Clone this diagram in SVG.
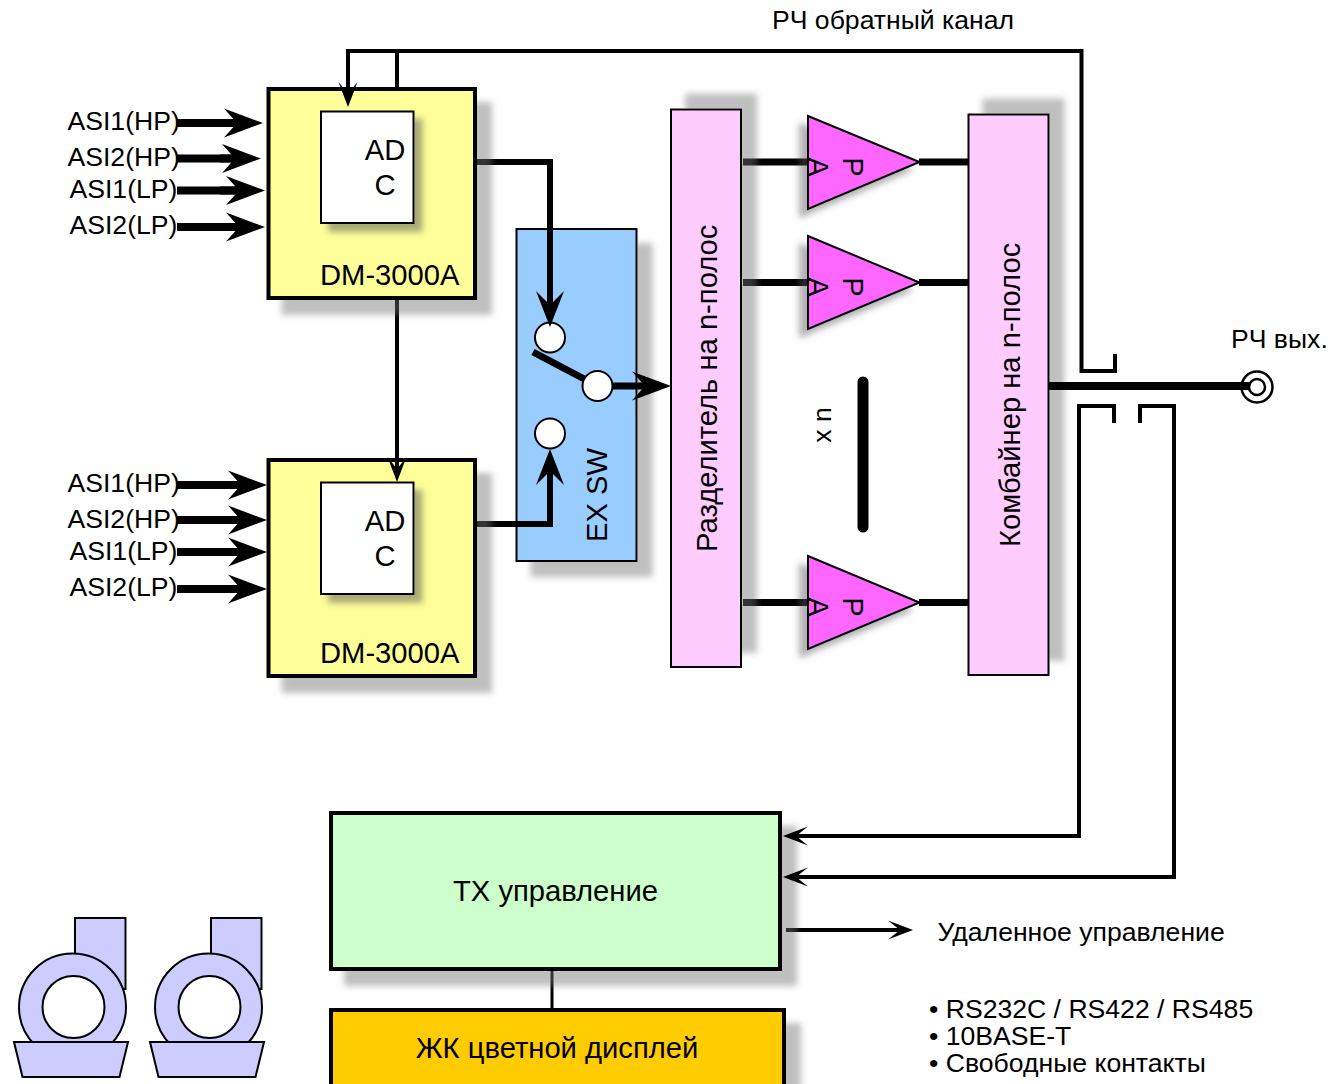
<svg xmlns="http://www.w3.org/2000/svg" width="1341" height="1084" viewBox="0 0 1341 1084">
<style>
text{font-family:"Liberation Sans",Arial,sans-serif;fill:#000}
.t26{font-size:26.600px}.t29{font-size:29.200px}.t28{font-size:29.200px}
.m{text-anchor:middle}
.box{stroke:#000;stroke-width:4}
.thin{stroke:#000;stroke-width:2}
.y{fill:#ffff99}.w{fill:#fff}.b{fill:#99ccff}.p{fill:#ffccff}.a{fill:#ff66ff}.g{fill:#ccffcc}.o{fill:#ffcc00}.v{fill:#ccccff}
.l{fill:none;stroke:#000;stroke-linejoin:miter}
.l4{stroke-width:4}.l6{stroke-width:6}.l7{stroke-width:7}.l8{stroke-width:8}
.big{marker-end:url(#big)}.med{marker-end:url(#med)}.sm{marker-end:url(#sm)}
</style>
<defs>
<marker id="big" markerUnits="userSpaceOnUse" markerWidth="42" markerHeight="32" refX="19" refY="15" orient="auto"><path d="M39,15L0,0.500L13,15L0,29.500Z"/></marker>
<marker id="med" markerUnits="userSpaceOnUse" markerWidth="38" markerHeight="32" refX="20" refY="15" orient="auto"><path d="M36,15L0,1L14,15L0,29Z"/></marker>
<marker id="sm" markerUnits="userSpaceOnUse" markerWidth="28" markerHeight="22" refX="15" refY="10" orient="auto"><path d="M25,10L0,0.5L12,10L0,19.5Z"/></marker>
<filter id="s1" x="-20%" y="-20%" width="140%" height="140%"><feGaussianBlur in="SourceAlpha" stdDeviation="3" result="bl"/><feOffset in="bl" dx="15" dy="15" result="of"/><feFlood flood-color="#717171" flood-opacity=".45"/><feComposite in2="of" operator="in"/><feMerge><feMergeNode/><feMergeNode in="SourceGraphic"/></feMerge></filter>
<filter id="s2" x="-40%" y="-20%" width="180%" height="140%"><feGaussianBlur in="SourceAlpha" stdDeviation="3" result="bl"/><feOffset in="bl" dx="15" dy="-15" result="of"/><feFlood flood-color="#717171" flood-opacity=".45"/><feComposite in2="of" operator="in"/><feMerge><feMergeNode/><feMergeNode in="SourceGraphic"/></feMerge></filter>
<filter id="s3" x="-20%" y="-20%" width="140%" height="140%"><feGaussianBlur in="SourceAlpha" stdDeviation="3" result="bl"/><feOffset in="bl" dx="8" dy="8" result="of"/><feFlood flood-color="#555" flood-opacity=".5"/><feComposite in2="of" operator="in"/><feMerge><feMergeNode/><feMergeNode in="SourceGraphic"/></feMerge></filter>
<filter id="s4" x="-30%" y="-20%" width="160%" height="140%"><feGaussianBlur in="SourceAlpha" stdDeviation="3" result="bl"/><feOffset in="bl" dx="-8" dy="8" result="of"/><feFlood flood-color="#555" flood-opacity=".45"/><feComposite in2="of" operator="in"/><feMerge><feMergeNode/><feMergeNode in="SourceGraphic"/></feMerge></filter>
</defs>

<g id="ex-sw">
<rect class="b thin" x="516.500" y="229" width="120" height="332" filter="url(#s1)"/>
<text class="t28" transform="translate(607,542) rotate(-90)">EX SW</text>
</g>

<g id="connectors">
<path class="l l6" d="M477,162H550V308"/>
<path class="l l6" d="M477,524H550V468"/>
<path class="l l7" d="M743,162H807M743,282.500H807M743,602.500H807"/>
<path class="l l7" d="M919,162H969M919,282.500H969M919,602.500H969"/>
<path class="l l4" d="M397,300V472" />
<path class="l l4" d="M1115,354V371H1081.500V51H348V97"/>
<path class="l l4" d="M397,51V88"/>
<path class="l l4" d="M1114,423V406H1079V836H795"/>
<path class="l l4" d="M1140,423V406H1174V877H795"/>
<path class="l l4" d="M786,930H903"/>
<path class="l" stroke-width="3" d="M552,970V1008"/>
<path class="l l8" d="M177,123H243M177,158.500H241M177,190.500H245M177,227H245"/>
<path class="l l8" d="M177,485H247M177,520H247M177,552H247M177,589H247"/>
</g>

<g id="dm1">
<rect class="y box" x="268.500" y="89" width="206.500" height="209" filter="url(#s1)"/>
<rect class="w thin" x="321" y="111.500" width="92.500" height="111.500" filter="url(#s3)"/>
<text class="t29 m" x="385" y="160">AD</text><text class="t29 m" x="385" y="195">C</text>
<text class="t29" x="320" y="285">DM-3000A</text>
</g>
<g id="dm2">
<rect class="y box" x="268.500" y="460" width="206.500" height="216" filter="url(#s1)"/>
<rect class="w thin" x="321" y="482.500" width="92.500" height="111.500" filter="url(#s3)"/>
<text class="t29 m" x="385" y="531">AD</text><text class="t29 m" x="385" y="566">C</text>
<text class="t29" x="320" y="663">DM-3000A</text>
</g>
<g id="splitter">
<rect class="p thin" x="671" y="109.500" width="70" height="557.500" filter="url(#s2)"/>
<text class="t28" transform="translate(717,552) rotate(-90)">Разделитель на n-полос</text>
</g>
<g id="combiner">
<rect class="p thin" x="968.500" y="114.500" width="80" height="560.500" filter="url(#s2)"/>
<text class="t28" transform="translate(1020,547) rotate(-90)">Комбайнер на n-полос</text>
</g>
<g id="pa1">
<path class="a thin" d="M808,116L919.500,162L808,209Z" filter="url(#s4)"/>
<text class="t28 m" transform="translate(843,167) rotate(90)">P</text><text class="t28 m" transform="translate(808,167) rotate(90)">A</text>
</g>
<g id="pa2">
<path class="a thin" d="M808,236L919.500,282.500L808,329Z" filter="url(#s4)"/>
<text class="t28 m" transform="translate(843,287) rotate(90)">P</text><text class="t28 m" transform="translate(808,287) rotate(90)">A</text>
</g>
<g id="pa3">
<path class="a thin" d="M808,556L919.500,602.500L808,649Z" filter="url(#s4)"/>
<text class="t28 m" transform="translate(843,607) rotate(90)">P</text><text class="t28 m" transform="translate(808,607) rotate(90)">A</text>
</g>
<g id="xn">
<text class="t26 m" transform="translate(831,425) rotate(-90)">x n</text>
<line x1="863" y1="382" x2="863" y2="527" stroke="#000" stroke-width="11" stroke-linecap="round"/>
</g>
<g id="tx-control">
<rect class="g box" x="331" y="813" width="449" height="156" filter="url(#s1)"/>
<text class="t28 m" x="555.500" y="901">TX управление</text>
</g>
<g id="lcd">
<rect class="o box" x="331" y="1010" width="453" height="90" filter="url(#s1)"/>
<text class="t28 m" x="557" y="1058">ЖК цветной дисплей</text>
</g>

<g id="switch">
<circle class="w thin" cx="550" cy="337.500" r="15"/>
<circle class="w thin" cx="550" cy="433.500" r="15"/>
<path class="l l7" d="M533,352L590,382"/>
<circle class="w thin" cx="597.500" cy="386" r="15"/>
</g>

<g id="connectors-over">
<path class="l l4 sm" d="M348,85V97"/>
<path class="l l4 sm" d="M397,440V472"/>
<path class="l l6 med" d="M550,280V311"/>
<path class="l l6 med" d="M550,500V465"/>
<path class="l l7 big" d="M613,386H651"/>
<path class="l l4 sm" d="M798,836H793"/>
<path class="l l4 sm" d="M798,877H793"/>
<path class="l l4 sm" d="M895,930H903"/>
<path class="l l8 big" d="M220,123H243"/>
<path class="l l8 big" d="M220,158.500H241"/>
<path class="l l8 big" d="M220,190.500H245"/>
<path class="l l8 big" d="M220,227H245"/>
<path class="l l8 big" d="M220,485H247"/>
<path class="l l8 big" d="M220,520H247"/>
<path class="l l8 big" d="M220,552H247"/>
<path class="l l8 big" d="M220,589H247"/>
<path class="l l8" d="M1049,386H1252"/>
</g>

<g id="rf-out">
<circle cx="1257" cy="387" r="15.500" fill="none" stroke="#000" stroke-width="2.500"/>
<circle cx="1257" cy="387" r="8" fill="#fff" stroke="#000" stroke-width="2.500"/>
<text class="t26" x="1231" y="348">РЧ вых.</text>
</g>

<g id="labels">
<text class="t26" x="772" y="29">РЧ обратный канал</text>
<text class="t26" x="67.500" y="130">ASI1(HP)</text><text class="t26" x="67.500" y="166">ASI2(HP)</text><text class="t26" x="69.500" y="198">ASI1(LP)</text><text class="t26" x="69.500" y="234">ASI2(LP)</text>
<text class="t26" x="67.500" y="492">ASI1(HP)</text><text class="t26" x="67.500" y="528">ASI2(HP)</text><text class="t26" x="69.500" y="560">ASI1(LP)</text><text class="t26" x="69.500" y="596">ASI2(LP)</text>
<text class="t26" x="937.500" y="941">Удаленное управление</text>
<text class="t26" x="929" y="1018">• RS232C / RS422 / RS485</text>
<text class="t26" x="929" y="1045">• 10BASE-T</text>
<text class="t26" x="929" y="1072">• Свободные контакты</text>
</g>

<g id="transmitter1">
<rect class="v thin" x="75" y="918" width="50.500" height="71"/>
<circle class="v thin" cx="72.500" cy="1007" r="53.500"/>
<circle class="w thin" cx="73.500" cy="1007" r="31"/>
<path class="v thin" d="M14,1042H128L119.500,1077H22.500Z"/>
</g>
<g id="transmitter2">
<rect class="v thin" x="211" y="918" width="50.500" height="71"/>
<circle class="v thin" cx="208.500" cy="1007" r="53.500"/>
<circle class="w thin" cx="209.500" cy="1007" r="31"/>
<path class="v thin" d="M150,1042H264L255.500,1077H158.500Z"/>
</g>
</svg>
